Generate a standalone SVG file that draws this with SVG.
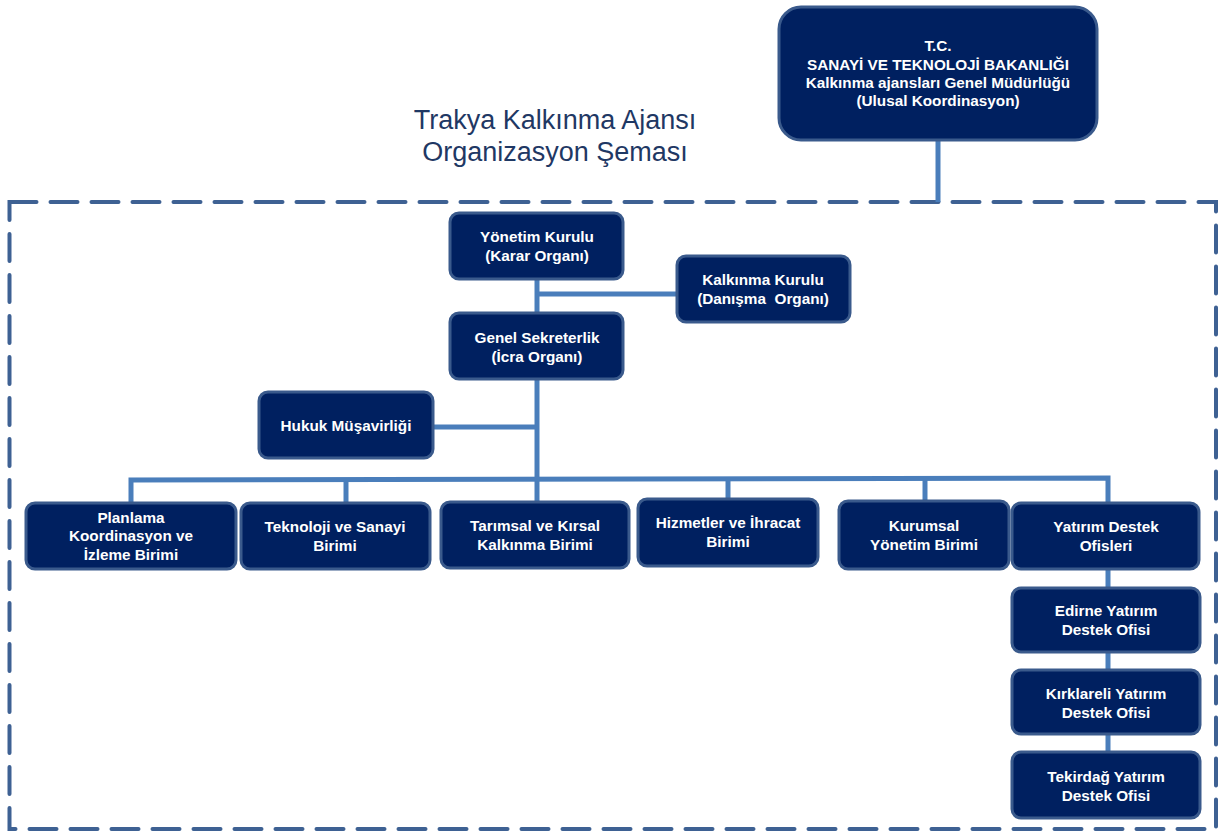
<svg xmlns="http://www.w3.org/2000/svg" width="1219" height="831" viewBox="0 0 1219 831">
<style>
.box{fill:#002060;stroke:#3a5a8c;stroke-width:3}
.t{font-family:"Liberation Sans",Arial,sans-serif;font-weight:bold;font-size:15.3px;fill:#ffffff;text-anchor:middle;white-space:pre}
.title{font-family:"Liberation Sans",Arial,sans-serif;font-size:27px;fill:#1f3864;text-anchor:middle}
.c{stroke:#4a7ebb;stroke-width:5;fill:none}
</style>
<rect width="1219" height="831" fill="#ffffff"/>
<rect x="9.5" y="202" width="1206.5" height="627" fill="none" stroke="#3e6193" stroke-width="4" stroke-linecap="round" stroke-dasharray="27 14"/>
<g id="title">
<text class="title" x="555" y="129">Trakya Kalkınma Ajansı</text>
<text class="title" x="555" y="161">Organizasyon Şeması</text>
</g>
<g id="connectors">
<line class="c" x1="938" y1="140" x2="938" y2="202"/>
<line class="c" x1="537" y1="279" x2="537" y2="313"/>
<line class="c" x1="537" y1="294" x2="677" y2="294"/>
<line class="c" x1="537" y1="379" x2="537" y2="502"/>
<line class="c" x1="433" y1="427" x2="537" y2="427"/>
<polyline class="c" points="131,503 131,480 1108,478 1108,503"/>
<line class="c" x1="346" y1="480" x2="346" y2="502"/>
<line class="c" x1="728" y1="479" x2="728" y2="499"/>
<line class="c" x1="925" y1="479" x2="925" y2="501"/>
<line class="c" x1="1108" y1="569" x2="1108" y2="588"/>
<line class="c" x1="1108" y1="652" x2="1108" y2="670"/>
<line class="c" x1="1108" y1="734" x2="1108" y2="752"/>
</g>
<g id="bakanlik">
<rect class="box" x="779" y="7" width="318" height="133" rx="22"/>
<text class="t" x="938" y="51">T.C.</text>
<text class="t" x="938" y="70">SANAYİ VE TEKNOLOJİ BAKANLIĞI</text>
<text class="t" x="938" y="88">Kalkınma ajansları Genel Müdürlüğü</text>
<text class="t" x="938" y="106">(Ulusal Koordinasyon)</text>
</g>
<g id="yonetim">
<rect class="box" x="450" y="213" width="173" height="66" rx="9"/>
<text class="t" x="537" y="242">Yönetim Kurulu</text>
<text class="t" x="537" y="261">(Karar Organı)</text>
</g>
<g id="kalkinma">
<rect class="box" x="677" y="256" width="173" height="66" rx="9"/>
<text class="t" x="763" y="285">Kalkınma Kurulu</text>
<text class="t" x="763" y="304" xml:space="preserve">(Danışma  Organı)</text>
</g>
<g id="genel">
<rect class="box" x="450" y="313" width="173" height="66" rx="9"/>
<text class="t" x="537" y="343">Genel Sekreterlik</text>
<text class="t" x="537" y="362">(İcra Organı)</text>
</g>
<g id="hukuk">
<rect class="box" x="259" y="392" width="174" height="66" rx="9"/>
<text class="t" x="346" y="431">Hukuk Müşavirliği</text>
</g>
<g id="planlama">
<rect class="box" x="26" y="503" width="210" height="66" rx="9"/>
<text class="t" x="131" y="523">Planlama</text>
<text class="t" x="131" y="541">Koordinasyon ve</text>
<text class="t" x="131" y="560">İzleme Birimi</text>
</g>
<g id="teknoloji">
<rect class="box" x="241" y="503" width="189" height="66" rx="9"/>
<text class="t" x="335" y="532">Teknoloji ve Sanayi</text>
<text class="t" x="335" y="551">Birimi</text>
</g>
<g id="tarimsal">
<rect class="box" x="441" y="502" width="188" height="66" rx="9"/>
<text class="t" x="535" y="531">Tarımsal ve Kırsal</text>
<text class="t" x="535" y="550">Kalkınma Birimi</text>
</g>
<g id="hizmetler">
<rect class="box" x="638" y="499" width="180" height="67" rx="9"/>
<text class="t" x="728" y="528">Hizmetler ve İhracat</text>
<text class="t" x="728" y="547">Birimi</text>
</g>
<g id="kurumsal">
<rect class="box" x="839" y="501" width="170" height="68" rx="9"/>
<text class="t" x="924" y="531">Kurumsal</text>
<text class="t" x="924" y="550">Yönetim Birimi</text>
</g>
<g id="yatirim">
<rect class="box" x="1012" y="503" width="187" height="66" rx="9"/>
<text class="t" x="1106" y="532">Yatırım Destek</text>
<text class="t" x="1106" y="551">Ofisleri</text>
</g>
<g id="edirne">
<rect class="box" x="1012" y="588" width="188" height="64" rx="9"/>
<text class="t" x="1106" y="616">Edirne Yatırım</text>
<text class="t" x="1106" y="635">Destek Ofisi</text>
</g>
<g id="kirklareli">
<rect class="box" x="1012" y="670" width="188" height="64" rx="9"/>
<text class="t" x="1106" y="699">Kırklareli Yatırım</text>
<text class="t" x="1106" y="718">Destek Ofisi</text>
</g>
<g id="tekirdag">
<rect class="box" x="1012" y="752" width="188" height="66" rx="9"/>
<text class="t" x="1106" y="782">Tekirdağ Yatırım</text>
<text class="t" x="1106" y="801">Destek Ofisi</text>
</g>
</svg>
